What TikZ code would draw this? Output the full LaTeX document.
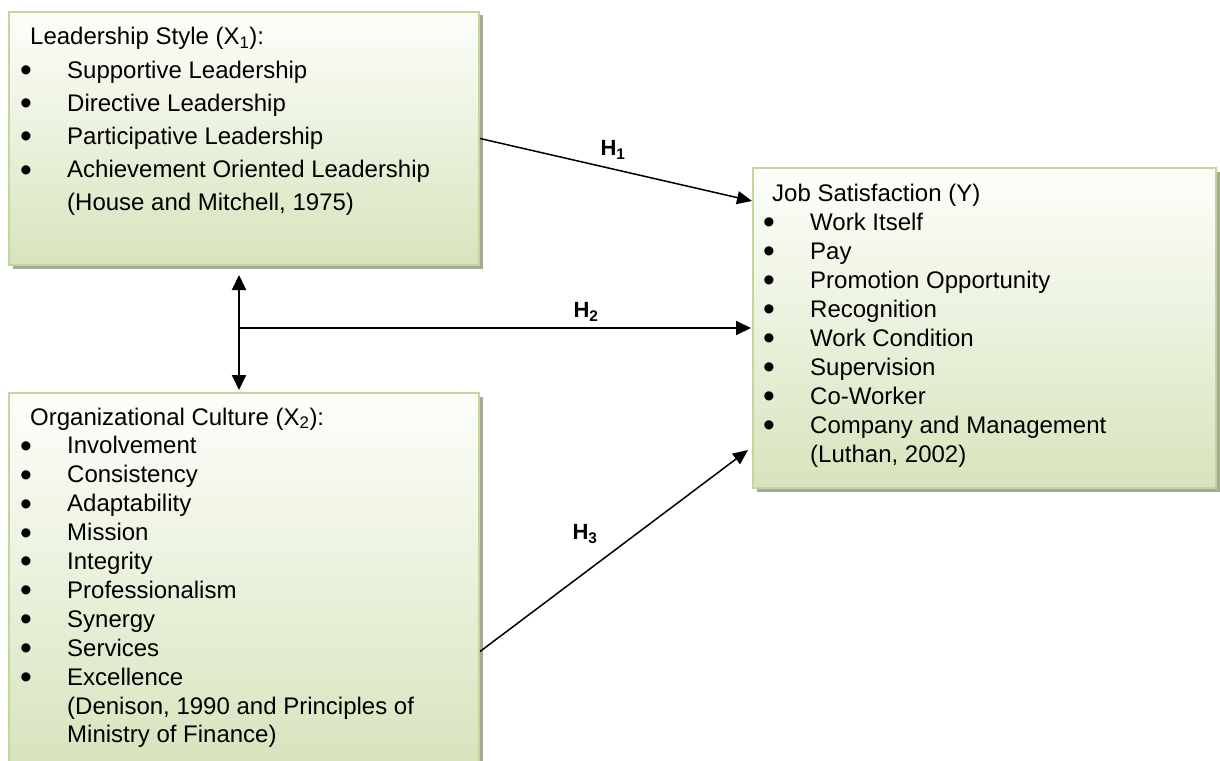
\documentclass[tikz,border=0pt]{standalone}
\usepackage{fontspec}
\setmainfont{Liberation Sans}
\usetikzlibrary{arrows.meta,calc,shadows}
\definecolor{boxtop}{RGB}{253,254,251}
\definecolor{boxbot}{RGB}{215,228,189}
\definecolor{boxline}{RGB}{195,214,155}
\definecolor{shadowc}{RGB}{163,170,150}
\newcommand\bigbul{\smash{\raisebox{-3.4pt}{\scalebox{1.4}{•}}}}
\newcommand\bitem[1]{\makebox[47pt][l]{\bigbul}#1}
\newcommand\contline[1]{\hspace*{47pt}#1}
\begin{document}
\begin{tikzpicture}[x=1pt,y=-1pt]
\tikzset{
  panel/.style={draw=boxline, line width=2pt, top color=boxtop, bottom color=boxbot,
    inner sep=0pt, anchor=north west,
    drop shadow={shadow xshift=3.5pt, shadow yshift=-3.5pt, fill=shadowc, opacity=1}},
  conn/.style={line width=1.5pt, -{Triangle[length=15pt,width=13pt]}},
  hconn/.style={line width=1.9pt, -{Triangle[length=15pt,width=14pt]}},
  dconn/.style={line width=1.9pt, {Triangle[length=15pt,width=14pt]}-{Triangle[length=15pt,width=14pt]}},
  hlabel/.style={font=\fontsize{22}{26}\selectfont\bfseries, inner sep=0pt},
  listtext/.style={anchor=base west, inner sep=0pt, align=left}
}
\useasboundingbox (0,0) rectangle (1220,760);

% panels
\node[panel, minimum width=470pt, minimum height=253pt] (l1) at (8,11) {};
\node[panel, minimum width=470pt, minimum height=373pt] (l2) at (8,392) {};
\node[panel, minimum width=463pt, minimum height=320pt] (js) at (752,167) {};

% texts
\node[listtext] (t1) at (20,45) {\parbox[t]{450pt}{\fontsize{24}{33.2}\selectfont
\hspace*{10pt}Leadership Style (X\textsubscript{1}):\\
\bitem{Supportive Leadership}\\
\bitem{Directive Leadership}\\
\bitem{Participative Leadership}\\
\bitem{Achievement Oriented Leadership}\\
\contline{(House and Mitchell, 1975)}}};

\node[listtext] (t2) at (20,425) {\parbox[t]{450pt}{\fontsize{24}{28.9}\selectfont
\hspace*{10pt}Organizational Culture (X\textsubscript{2}):\\
\bitem{Involvement}\\
\bitem{Consistency}\\
\bitem{Adaptability}\\
\bitem{Mission}\\
\bitem{Integrity}\\
\bitem{Professionalism}\\
\bitem{Synergy}\\
\bitem{Services}\\
\bitem{Excellence}\\
\contline{(Denison, 1990 and Principles of}\\
\contline{Ministry of Finance)}}};

\node[listtext] (t3) at (763,201) {\parbox[t]{440pt}{\fontsize{24}{29.05}\selectfont
\hspace*{9pt}Job Satisfaction (Y)\\
\bitem{Work Itself}\\
\bitem{Pay}\\
\bitem{Promotion Opportunity}\\
\bitem{Recognition}\\
\bitem{Work Condition}\\
\bitem{Supervision}\\
\bitem{Co-Worker}\\
\bitem{Company and Management}\\
\contline{(Luthan, 2002)}}};

% connectors
\coordinate (vx) at ($(l1.south)+(-5,0)$);
\coordinate (hj) at (vx |- js.west);
\draw[conn] (l1.east) -- ($(js.north west)+(0,34)$);
\draw[hconn] (hj) -- ($(js.west)+(-1,0)$);
\draw[dconn] ($(vx)+(0,9)$) -- ($(l2.north)+(-5,-2)$);
\draw[conn] ($(l2.east)+(0,72)$) -- ($(js.south west)+(-4,-39)$);

% labels
\node[hlabel] (h1) at (613,150) {H\textsubscript{1}};
\node[hlabel] (h2) at (586,312) {H\textsubscript{2}};
\node[hlabel] (h3) at (585,534) {H\textsubscript{3}};
\end{tikzpicture}
\end{document}
